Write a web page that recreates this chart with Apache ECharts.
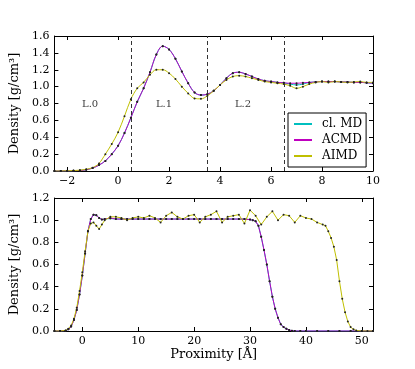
<!DOCTYPE html>
<html>
<head>
<meta charset="utf-8">
<script src="https://cdn.jsdelivr.net/npm/echarts@6/dist/echarts.min.js"></script>
<style>
  html, body { margin: 0; padding: 0; background: #fff; }
  #chart { width: 415px; height: 369px; }
</style>
</head>
<body>
<div id="chart"></div>
<script>
// 上图: 界面附近密度 (x 轴步长 0.25)
var topX = [-2.5, -2.25, -2, -1.75, -1.5, -1.25, -1, -0.75, -0.5, -0.25, 0, 0.25, 0.5, 0.75, 1, 1.25, 1.5, 1.75, 2, 2.25, 2.5, 2.75, 3, 3.25, 3.5, 3.75, 4, 4.25, 4.5, 4.75, 5, 5.25, 5.5, 5.75, 6, 6.25, 6.5, 6.75, 7, 7.25, 7.5, 7.75, 8, 8.25, 8.5, 8.75, 9, 9.25, 9.5, 9.75, 10];
var topClMD = [0, 0, 0, 0.002, 0.006, 0.015, 0.035, 0.07, 0.12, 0.2, 0.3, 0.45, 0.63, 0.82, 0.98, 1.17, 1.38, 1.48, 1.44, 1.33, 1.18, 1.04, 0.93, 0.9, 0.91, 0.95, 1.02, 1.1, 1.16, 1.17, 1.15, 1.12, 1.09, 1.07, 1.06, 1.05, 1.045, 1.03, 1.02, 1.03, 1.05, 1.055, 1.06, 1.06, 1.06, 1.055, 1.055, 1.05, 1.05, 1.045, 1.04];
var topACMD = [0, 0, 0, 0.002, 0.006, 0.015, 0.035, 0.07, 0.12, 0.2, 0.3, 0.45, 0.63, 0.82, 0.98, 1.17, 1.38, 1.48, 1.44, 1.33, 1.18, 1.04, 0.93, 0.9, 0.91, 0.95, 1.02, 1.1, 1.16, 1.17, 1.15, 1.12, 1.09, 1.07, 1.06, 1.05, 1.045, 1.04, 1.04, 1.045, 1.05, 1.055, 1.06, 1.06, 1.06, 1.055, 1.055, 1.05, 1.05, 1.045, 1.04];
var topAIMD = [0, 0, 0.002, 0.005, 0.01, 0.02, 0.04, 0.09, 0.2, 0.32, 0.46, 0.65, 0.85, 0.98, 1.05, 1.14, 1.2, 1.2, 1.16, 1.09, 1.0, 0.92, 0.86, 0.855, 0.89, 0.95, 1.02, 1.08, 1.12, 1.13, 1.12, 1.1, 1.08, 1.06, 1.05, 1.04, 1.03, 1.01, 0.98, 1.0, 1.03, 1.05, 1.06, 1.05, 1.06, 1.055, 1.05, 1.055, 1.06, 1.05, 1.05];

// 层标记
var layerNames = ['L.0', 'L.1', 'L.2'];
var layerX = [-1.1, 1.8, 4.9];
var layerY = [0.79, 0.79, 0.79];
var layerBounds = [0.5, 3.5, 6.5];

// 下图: 整个体系的密度
var botX = [-5, -4, -3, -2.5, -2, -1.5, -1, -0.5, 0, 0.5, 1, 1.5, 2, 2.5, 3, 3.5, 4, 5, 6, 7, 8, 9, 10, 11, 12, 13, 14, 15, 16, 17, 18, 19, 20, 21, 22, 23, 24, 25, 26, 27, 28, 29, 30, 30.5, 31, 31.5, 32, 32.5, 33, 33.5, 34, 34.5, 35, 35.5, 36, 36.5, 37, 37.5, 38, 39, 40, 42, 44, 46, 48, 50, 52];
var botClMD = [0, 0, 0.003, 0.015, 0.04, 0.1, 0.19, 0.33, 0.5, 0.7, 0.9, 1.01, 1.05, 1.045, 1.02, 1.005, 1.01, 1.015, 1.01, 1.01, 1.01, 1.01, 1.01, 1.01, 1.01, 1.01, 1.01, 1.01, 1.01, 1.01, 1.01, 1.01, 1.01, 1.01, 1.01, 1.01, 1.01, 1.01, 1.01, 1.01, 1.01, 1.01, 1.005, 1.0, 0.99, 0.95, 0.85, 0.73, 0.6, 0.45, 0.31, 0.2, 0.12, 0.06, 0.035, 0.02, 0.008, 0.003, 0, 0, 0, 0, 0, 0, 0, 0, 0];
var botACMD = [0, 0, 0.003, 0.015, 0.04, 0.1, 0.19, 0.33, 0.5, 0.7, 0.9, 1.01, 1.05, 1.045, 1.02, 1.005, 1.01, 1.02, 1.01, 1.01, 1.01, 1.01, 1.01, 1.01, 1.01, 1.01, 1.01, 1.01, 1.01, 1.01, 1.01, 1.01, 1.01, 1.01, 1.01, 1.01, 1.01, 1.01, 1.01, 1.01, 1.01, 1.01, 1.005, 1.0, 0.99, 0.95, 0.85, 0.73, 0.6, 0.45, 0.31, 0.2, 0.12, 0.06, 0.035, 0.02, 0.008, 0.003, 0, 0, 0, 0, 0, 0, 0, 0, 0];
var botAimdX = [-5, -4, -3, -2.5, -2, -1.5, -1, -0.5, 0, 0.5, 1, 1.5, 2, 2.5, 3, 3.5, 4, 5, 6, 7, 8, 9, 10, 11, 12, 13, 14, 15, 16, 17, 18, 19, 20, 21, 22, 23, 24, 25, 26, 27, 28, 29, 30, 31, 32, 33, 34, 35, 36, 37, 38, 39, 40, 41, 42, 43, 43.5, 44, 44.5, 45, 45.5, 46, 46.5, 47, 47.5, 48, 48.5, 49, 50, 51, 52];
var botAIMD = [0, 0, 0.005, 0.02, 0.05, 0.11, 0.21, 0.36, 0.53, 0.72, 0.9, 0.97, 0.98, 0.95, 0.92, 0.96, 1.0, 1.03, 1.03, 1.02, 1.0, 1.02, 1.03, 1.02, 1.04, 1.02, 0.98, 1.04, 1.07, 1.03, 1.01, 1.04, 1.05, 0.98, 1.03, 1.05, 1.08, 0.98, 1.03, 1.04, 1.05, 0.97, 1.09, 1.04, 0.96, 1.03, 1.08, 1.0, 1.05, 1.04, 0.98, 1.04, 1.02, 1.01, 0.98, 0.96, 0.95, 0.9, 0.84, 0.76, 0.64, 0.45, 0.29, 0.17, 0.085, 0.035, 0.015, 0.005, 0, 0, 0];

var seriesNames = ['cl. MD', 'ACMD', 'AIMD'];
var seriesColors = ['#00bfbf', '#bf00bf', '#bfbf00'];

var FONT = 'DejaVu Serif';

function pairs(xs, ys) {
    var out = [];
    for (var i = 0; i < xs.length; i++) {
        out.push([xs[i], ys[i]]);
    }
    return out;
}

function numLabel(v) {
    var s = (Math.round(v * 10) / 10).toString();
    if (v < 0) s = '\u2212' + s.substring(1);
    return s;
}

function yLabel(v) {
    return v.toFixed(1);
}

// 坐标轴的公共样式
function baseAxis(extra) {
    var ax = {
        axisLine: { show: true, onZero: false, lineStyle: { color: '#000', width: 1 } },
        axisTick: { show: true, inside: true, length: 4, lineStyle: { color: '#000' } },
        axisLabel: { color: '#000', fontFamily: FONT, fontSize: 11 },
        splitLine: { show: false }
    };
    for (var k in extra) ax[k] = extra[k];
    return ax;
}

function lineSeries(name, color, data, xi, yi, smooth) {
    return {
        name: name,
        type: 'line',
        xAxisIndex: xi,
        yAxisIndex: yi,
        data: data,
        smooth: smooth,
        symbol: 'circle',
        symbolSize: 2,
        showSymbol: true,
        itemStyle: { color: '#222' },
        lineStyle: { color: color, width: 1 },
        emphasis: { disabled: true },
        animation: false
    };
}

var myChart = echarts.init(document.getElementById('chart'));

var series = [];
var topData = [topClMD, topACMD, topAIMD];
var botData = [pairs(botX, botClMD), pairs(botX, botACMD), pairs(botAimdX, botAIMD)];
for (var i = 0; i < 3; i++) {
    series.push(lineSeries(seriesNames[i], seriesColors[i], pairs(topX, topData[i]), 0, 0, 0.35));
}
for (var j = 0; j < 3; j++) {
    series.push(lineSeries(seriesNames[j], seriesColors[j], botData[j], 2, 2, false));
}

// 层分界虚线
series[0].markLine = {
    silent: true,
    symbol: 'none',
    label: { show: false },
    lineStyle: { color: '#333', width: 1, type: [4, 3] },
    data: layerBounds.map(function (b) { return { xAxis: b }; })
};

// 层名称
series.push({
    type: 'scatter',
    xAxisIndex: 0,
    yAxisIndex: 0,
    symbolSize: 0,
    silent: true,
    animation: false,
    data: layerNames.map(function (n, k) { return { name: n, value: [layerX[k], layerY[k]] }; }),
    label: {
        show: true,
        position: 'inside',
        formatter: '{b}',
        color: '#000',
        fontFamily: FONT,
        fontSize: 10
    }
});

var option = {
    backgroundColor: '#fff',
    animation: false,
    grid: [
        { left: 52, top: 36, right: 42, height: 135 },
        { left: 52, top: 198, right: 42, height: 133 }
    ],
    legend: {
        orient: 'vertical',
        left: 288,
        top: 113,
        padding: [5, 4, 5, 6],
        itemGap: 4,
        itemWidth: 18,
        itemHeight: 2,
        icon: 'rect',
        borderColor: '#000',
        borderWidth: 1,
        borderRadius: 0,
        backgroundColor: '#fff',
        textStyle: { color: '#000', fontFamily: FONT, fontSize: 12, padding: [0, 0, 0, 5] },
        data: seriesNames.map(function (n, k) {
            return { name: n, itemStyle: { color: seriesColors[k] } };
        })
    },
    xAxis: [
        baseAxis({
            gridIndex: 0, type: 'value', position: 'bottom', min: -2.5, max: 10,
            splitNumber: 6, minInterval: 2, maxInterval: 2,
            axisLabel: { color: '#000', fontFamily: FONT, fontSize: 11, margin: 5, showMinLabel: false, formatter: numLabel }
        }),
        baseAxis({
            gridIndex: 0, type: 'value', position: 'top', min: -2.5, max: 10,
            splitNumber: 6, minInterval: 2, maxInterval: 2,
            axisLabel: { show: false }
        }),
        baseAxis({
            gridIndex: 1, type: 'value', position: 'bottom', min: -5, max: 52,
            splitNumber: 6, minInterval: 10, maxInterval: 10,
            name: 'Proximity [\u00c5]', nameLocation: 'middle', nameGap: 16,
            nameTextStyle: { color: '#000', fontFamily: FONT, fontSize: 13 },
            axisLabel: { color: '#000', fontFamily: FONT, fontSize: 11, margin: 5, showMinLabel: false, showMaxLabel: false, formatter: numLabel }
        }),
        baseAxis({
            gridIndex: 1, type: 'value', position: 'top', min: -5, max: 52,
            splitNumber: 6, minInterval: 10, maxInterval: 10,
            axisLabel: { show: false }
        })
    ],
    yAxis: [
        baseAxis({
            gridIndex: 0, type: 'value', position: 'left', min: 0, max: 1.6, interval: 0.2,
            name: 'Density [g/cm\u00b3]', nameLocation: 'middle', nameGap: 29,
            nameTextStyle: { color: '#000', fontFamily: FONT, fontSize: 13 },
            axisLabel: { color: '#000', fontFamily: FONT, fontSize: 11, margin: 5, formatter: yLabel }
        }),
        baseAxis({
            gridIndex: 0, type: 'value', position: 'right', min: 0, max: 1.6, interval: 0.2,
            axisLabel: { show: false }
        }),
        baseAxis({
            gridIndex: 1, type: 'value', position: 'left', min: 0, max: 1.2, interval: 0.2,
            name: 'Density [g/cm\u00b3]', nameLocation: 'middle', nameGap: 29,
            nameTextStyle: { color: '#000', fontFamily: FONT, fontSize: 13 },
            axisLabel: { color: '#000', fontFamily: FONT, fontSize: 11, margin: 5, formatter: yLabel }
        }),
        baseAxis({
            gridIndex: 1, type: 'value', position: 'right', min: 0, max: 1.2, interval: 0.2,
            axisLabel: { show: false }
        })
    ],
    series: series
};

myChart.setOption(option);
</script>
</body>
</html>
